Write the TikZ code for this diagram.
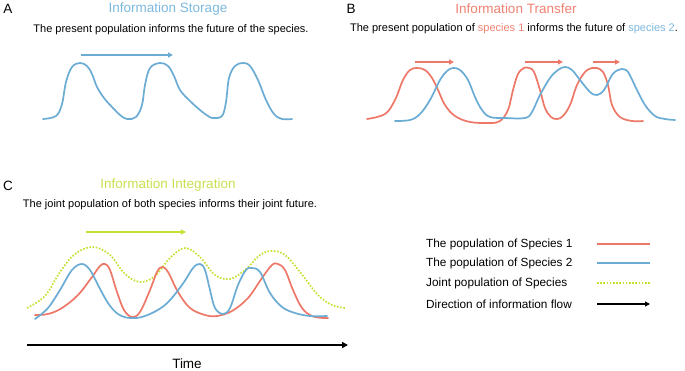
\documentclass[tikz,border=0pt]{standalone}
\usepackage{fontspec}
\setmainfont{Liberation Sans}
\usetikzlibrary{arrows.meta}
\definecolor{cblue}{RGB}{107,172,212}
\definecolor{ctblue}{RGB}{125,185,222}
\definecolor{cred}{RGB}{238,120,104}
\definecolor{ctred}{RGB}{240,130,115}
\definecolor{cgreen}{RGB}{198,224,50}
\definecolor{ctgreen}{RGB}{200,225,80}
\tikzset{
  lbl/.style={font=\fontsize{13.5}{15}\selectfont, inner sep=0pt},
  ttl/.style={font=\fontsize{13.5}{15}\selectfont, inner sep=0pt},
  sub/.style={font=\fontsize{11}{13}\selectfont, inner sep=0pt},
  leg/.style={font=\fontsize{11.8}{13}\selectfont, inner sep=0pt, anchor=west},
  curve/.style={line width=1.7pt, line join=round, line cap=round},
  flow/.style={line width=1.4pt, -{Triangle[length=5pt,width=5pt]}},
  dots/.style={line width=1.7pt, dash pattern=on 1.6pt off 1.6pt},
}
\begin{document}
\begin{tikzpicture}[x=1pt,y=-1pt]
\useasboundingbox[fill=white] (0,0) rectangle (685,371);
% Panel A
\node[lbl] (A) at (8,9) {A};
\node[ttl, text=ctblue] (At) at (168,9) {Information Storage};
\node[sub] (As) at (171,30) {The present population informs the future of the species.};
\coordinate (a1) at (81,55); \coordinate (a2) at (173,55);
\draw[flow, cblue] (a1) -- (a2);
\draw[curve, cblue] plot[smooth, tension=0.6] coordinates {(43,119) (56,116) (62,104) (66,82) (72,67) (80,63) (87,66) (92,74) (97,87) (104,98) (112,107) (120,115) (127,119) (136,117) (142,105) (145,85) (150,68) (160,63) (168,66) (174,76) (180,90) (190,101) (200,110) (208,116) (213,118) (222,116) (226,102) (229,78) (235,66) (243,63) (250,66) (258,80) (266,100) (274,114) (282,119) (292,119)};
% Panel B
\node[lbl] (B) at (351,9) {B};
\node[ttl, text=ctred] (Bt) at (516,9) {Information Transfer};
\node[sub] (Bs) at (514,29) {The present population of \textcolor{ctred}{species 1} informs the future of \textcolor{ctblue}{species 2}.};
\coordinate (b1) at (415,62); \coordinate (b2) at (454,62);
\coordinate (b3) at (525,62); \coordinate (b4) at (563,62);
\coordinate (b5) at (593,62); \coordinate (b6) at (620,62);
\draw[flow, cred] (b1) -- (b2);
\draw[flow, cred] (b3) -- (b4);
\draw[flow, cred] (b5) -- (b6);
\draw[curve, cred] plot[smooth, tension=0.6] coordinates {(367,119) (385,114) (395,100) (403,80) (410,70) (417,68) (425,70) (432,78) (438,90) (445,105) (455,116) (470,122) (490,123) (500,121) (508,110) (513,90) (518,74) (524,68) (529,68) (534,72) (540,90) (545,108) (551,117) (557,119) (563,116) (570,105) (577,85) (585,72) (592,68) (597,68) (603,72) (608,85) (612,105) (620,117) (632,121) (643,121)};
\draw[curve, cblue] plot[smooth, tension=0.6] coordinates {(395,121) (410,120) (420,114) (430,100) (440,80) (447,71) (453,68) (460,70) (468,80) (475,97) (482,110) (490,117) (505,118) (525,118) (532,112) (540,95) (550,78) (558,70) (565,67) (572,70) (580,80) (590,92) (597,95) (604,90) (612,75) (618,70) (622,69) (628,72) (636,88) (645,105) (655,116) (665,119) (675,120)};
% Panel C
\node[lbl] (C) at (8,186) {C};
\node[ttl, text=ctgreen] (Ct) at (168,185) {Information Integration};
\node[sub] (Cs) at (170,205) {The joint population of both species informs their joint future.};
\coordinate (c1) at (86,232); \coordinate (c2) at (186,232);
\draw[flow, cgreen] (c1) -- (c2);
\draw[dots, cgreen] plot[smooth, tension=0.6] coordinates {(27,308) (45,296) (60,272) (75,254) (93,247) (110,255) (125,274) (140,282) (155,276) (170,258) (185,248) (200,257) (215,275) (230,279) (245,270) (260,255) (272,251) (285,255) (300,272) (318,295) (332,305) (345,308)};
\draw[curve, cred] plot[smooth, tension=0.6] coordinates {(35,315) (48,314) (62,308) (78,295) (92,277) (100,266) (105,264) (110,270) (117,292) (124,310) (132,317) (140,312) (150,290) (157,272) (162,267) (168,272) (178,292) (190,308) (205,315) (217,316) (232,311) (248,298) (262,278) (272,265) (278,264) (285,270) (293,290) (302,308) (312,316) (323,318) (328,318)};
\draw[curve, cblue] plot[smooth, tension=0.6] coordinates {(35,319) (48,308) (60,290) (72,270) (82,264) (90,270) (98,285) (108,303) (118,314) (130,318) (145,316) (165,305) (182,285) (193,268) (200,264) (205,270) (210,290) (215,308) (223,314) (230,308) (238,285) (246,270) (252,268) (260,272) (270,293) (282,307) (295,313) (310,316) (327,316)};
\coordinate (t1) at (27,345); \coordinate (t2) at (348,345);
\draw[line width=1.6pt, -{Triangle[length=6pt,width=6pt]}] (t1) -- (t2);
\node[lbl] (T) at (187,364) {Time};
% Legend
\node[leg] (L1) at (426,244) {The population of Species 1};
\node[leg] (L2) at (426,263) {The population of Species 2};
\node[leg] (L3) at (426,283) {Joint population of Species};
\node[leg] (L4) at (426,304) {Direction of information flow};
\coordinate (l1a) at (597,244); \coordinate (l1b) at (650,244);
\coordinate (l2a) at (597,263); \coordinate (l2b) at (650,263);
\coordinate (l3a) at (597,283); \coordinate (l3b) at (650,283);
\coordinate (l4a) at (597,304); \coordinate (l4b) at (650,304);
\draw[line width=1.7pt, cred] (l1a) -- (l1b);
\draw[line width=1.7pt, cblue] (l2a) -- (l2b);
\draw[dots, cgreen] (l3a) -- (l3b);
\draw[line width=1.2pt, -{Triangle[length=5pt,width=5pt]}] (l4a) -- (l4b);
\end{tikzpicture}
\end{document}
